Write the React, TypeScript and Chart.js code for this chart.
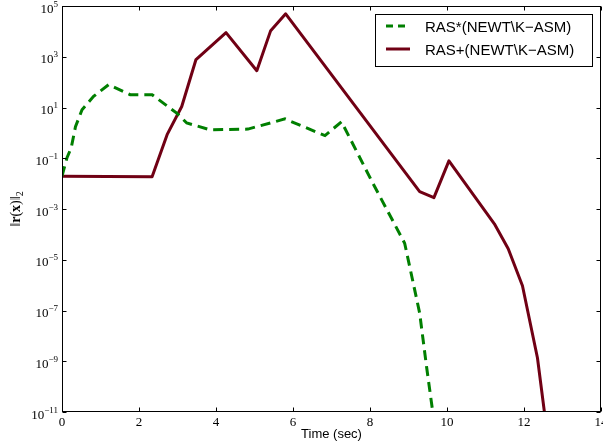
import React, { useEffect, useRef } from "react";
import { Chart, registerables } from "chart.js";

Chart.register(...registerables);

const seriesLabels = ["RAS*(NEWT\\K\u2212ASM)", "RAS+(NEWT\\K\u2212ASM)"];
const seriesColors = ["#007f00", "#700014"];

const starTime = [0, 0.13, 0.24, 0.35, 0.52, 0.82, 1.21, 1.77, 2.34, 2.98, 3.24, 3.85, 4.83, 5.79, 6.83, 7.26, 8.07, 8.9, 9.29, 9.47, 9.63];
const starResidual = [2.0e-2, 1.05e-1, 2.6e-1, 1.74, 8.1, 27.5, 79, 32, 32, 6.0, 2.45, 1.32, 1.41, 3.55, 0.78, 2.75, 1.07e-2, 4.5e-5, 7.9e-8, 5.9e-10, 1e-11];

const plusTime = [0, 2.34, 2.73, 3.11, 3.48, 4.26, 5.06, 5.42, 5.81, 9.29, 9.66, 10.05, 11.23, 11.59, 11.96, 12.35, 12.53];
const plusResidual = [1.95e-2, 1.86e-2, 0.85, 11, 776, 8900, 282, 10700, 49000, 4.8e-3, 2.8e-3, 7.9e-2, 2.6e-4, 2.7e-5, 9.5e-7, 1.35e-9, 1e-11];

const xTicks = [0, 2, 4, 6, 8, 10, 12, 14];
const yTicks = [1e-11, 1e-9, 1e-7, 1e-5, 1e-3, 1e-1, 1e1, 1e3, 1e5];
const yExponents = ["\u221211", "\u22129", "\u22127", "\u22125", "\u22123", "\u22121", "1", "3", "5"];
const xTitle = "Time (sec)";

const SERIF = '"Liberation Serif", "DejaVu Serif", serif';
const SANS = '"Liberation Sans", Arial, sans-serif';

const decorPlugin = {
  id: "decor",
  afterDraw(chart: any) {
    const ctx = chart.ctx as CanvasRenderingContext2D;
    const { left, right, top, bottom } = chart.chartArea;
    const xs = chart.scales.x;
    const ys = chart.scales.y;
    ctx.save();
    ctx.strokeStyle = "#000";
    ctx.lineWidth = 1;
    const L = Math.round(left) + 0.5;
    const R = Math.round(right) - 0.5;
    const T = Math.round(top) + 0.5;
    const B = Math.round(bottom) - 0.5;
    ctx.strokeRect(L, T, R - L, B - T);
    const tl = 4;
    ctx.beginPath();
    xTicks.forEach((v) => {
      const px = Math.round(xs.getPixelForValue(v)) + 0.5;
      ctx.moveTo(px, B);
      ctx.lineTo(px, B - tl);
      ctx.moveTo(px, T);
      ctx.lineTo(px, T + tl);
    });
    yTicks.forEach((v) => {
      const py = Math.round(ys.getPixelForValue(v)) + 0.5;
      ctx.moveTo(L, py);
      ctx.lineTo(L + tl, py);
      ctx.moveTo(R, py);
      ctx.lineTo(R - tl, py);
    });
    ctx.stroke();

    ctx.fillStyle = "#000";
    ctx.textBaseline = "alphabetic";
    ctx.textAlign = "left";
    yTicks.forEach((v, i) => {
      const py = ys.getPixelForValue(v);
      const exp = yExponents[i];
      ctx.font = `9px ${SERIF}`;
      const w2 = ctx.measureText(exp).width;
      ctx.font = `13px ${SERIF}`;
      const w1 = ctx.measureText("10").width;
      const rightEdge = left - 4;
      ctx.fillText("10", rightEdge - w2 - w1, py + 6.5);
      ctx.font = `9px ${SERIF}`;
      ctx.fillText(exp, rightEdge - w2, py + 0.5);
    });

    const parts = [
      { t: "\u2016", f: `14px ${SERIF}`, dy: 0 },
      { t: "r", f: `bold 14px ${SERIF}`, dy: 0 },
      { t: "(", f: `14px ${SERIF}`, dy: 0 },
      { t: "x", f: `bold 14px ${SERIF}`, dy: 0 },
      { t: ")", f: `14px ${SERIF}`, dy: 0 },
      { t: "\u2016", f: `14px ${SERIF}`, dy: 0 },
      { t: "2", f: `10px ${SERIF}`, dy: 3 },
    ];
    let total = 0;
    const widths = parts.map((p) => {
      ctx.font = p.f;
      const w = ctx.measureText(p.t).width;
      total += w;
      return w;
    });
    ctx.save();
    ctx.translate(20, 209);
    ctx.rotate(-Math.PI / 2);
    let cx = -total / 2;
    parts.forEach((p, i) => {
      ctx.font = p.f;
      ctx.fillText(p.t, cx, p.dy);
      cx += widths[i];
    });
    ctx.restore();

    ctx.font = `13px ${SANS}`;
    ctx.textAlign = "center";
    ctx.textBaseline = "middle";
    ctx.fillText(xTitle, (left + right) / 2, 434);

    const bx = 375.5, by = 14.5, bw = 217, bh = 52;
    ctx.fillStyle = "#fff";
    ctx.fillRect(bx, by, bw, bh);
    ctx.strokeStyle = "#000";
    ctx.lineWidth = 1;
    ctx.strokeRect(bx, by, bw, bh);
    const rowsY = [28, 51];
    chart.data.datasets.forEach((ds: any, i: number) => {
      const y = rowsY[i];
      ctx.strokeStyle = ds.borderColor;
      ctx.lineWidth = 3;
      ctx.setLineDash(i === 0 ? [7, 5] : []);
      ctx.beginPath();
      ctx.moveTo(386, y - 2);
      ctx.lineTo(i === 0 ? 405 : 410, y - 2);
      ctx.stroke();
      ctx.setLineDash([]);
      ctx.fillStyle = "#000";
      ctx.font = `15px ${SANS}`;
      ctx.textAlign = "left";
      ctx.textBaseline = "middle";
      ctx.fillText(ds.label, 425, y);
    });
    ctx.restore();
  },
};

export default function App() {
  const ref = useRef<HTMLCanvasElement | null>(null);
  useEffect(() => {
    document.body.style.margin = "0";
    const canvas = ref.current!;
    const chart = new Chart(canvas, {
      type: "line",
      data: {
        datasets: [
          {
            label: seriesLabels[0],
            data: starTime.map((t, i) => ({ x: t, y: starResidual[i] })),
            borderColor: seriesColors[0],
            backgroundColor: seriesColors[0],
            borderWidth: 3,
            borderDash: [10, 6],
            pointRadius: 0,
            tension: 0,
            fill: false,
          },
          {
            label: seriesLabels[1],
            data: plusTime.map((t, i) => ({ x: t, y: plusResidual[i] })),
            borderColor: seriesColors[1],
            backgroundColor: seriesColors[1],
            borderWidth: 3,
            borderJoinStyle: "round",
            pointRadius: 0,
            tension: 0,
            fill: false,
          },
        ],
      },
      options: {
        animation: false,
        responsive: false,
        devicePixelRatio: 1,
        layout: { padding: { left: 0, right: 2, top: 6, bottom: 0 } },
        plugins: {
          legend: { display: false },
          tooltip: { enabled: false },
          title: { display: false },
        },
        scales: {
          x: {
            type: "linear",
            min: 0,
            max: 14,
            afterBuildTicks: (s: any) => {
              s.ticks = xTicks.map((v) => ({ value: v }));
            },
            afterFit: (s: any) => {
              s.height = 34;
              s.paddingLeft = 0;
              s.paddingRight = 0;
            },
            grid: { display: false, drawTicks: false },
            border: { display: false },
            ticks: {
              color: "#000",
              padding: 3,
              maxRotation: 0,
              font: { family: SERIF, size: 13 },
              callback: (v: any) => String(v),
            },
          },
          y: {
            type: "logarithmic",
            min: 1e-11,
            max: 1e5,
            afterBuildTicks: (s: any) => {
              s.ticks = yTicks.map((v) => ({ value: v }));
            },
            afterFit: (s: any) => {
              s.width = 62;
              s.paddingTop = 0;
              s.paddingBottom = 0;
            },
            grid: { display: false, drawTicks: false },
            border: { display: false },
            ticks: { display: false },
          },
        },
      },
      plugins: [decorPlugin],
    } as any);
    return () => chart.destroy();
  }, []);
  return (
    <div style={{ width: 603, height: 446 }}>
      <canvas ref={ref} width={603} height={446} style={{ display: "block" }} />
    </div>
  );
}
